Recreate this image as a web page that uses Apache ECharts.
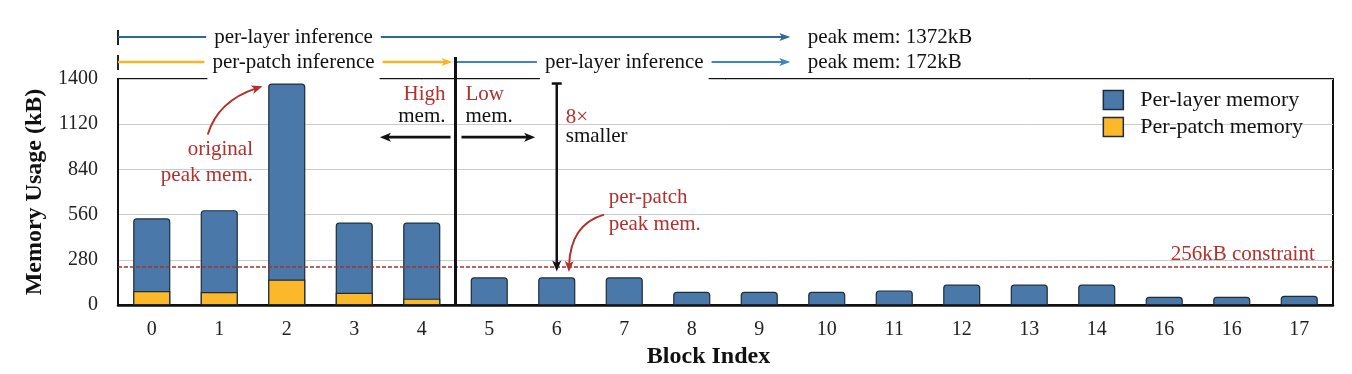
<!DOCTYPE html>
<html>
<head>
<meta charset="utf-8">
<script src="https://cdn.jsdelivr.net/npm/echarts@6/dist/echarts.min.js"></script>
<style>
html,body{margin:0;padding:0;background:#fff;}
#chart{width:1352px;height:374px;}
</style>
</head>
<body>
<div id="chart"></div>
<script>
// ---- data ----
const categories = ['0','1','2','3','4','5','6','7','8','9','10','11','12','13','14','16','16','17'];
const perLayerMemory = [537,588,1372,511,511,172,172,172,82,82,82,91,127,127,127,52,52,58];
const perPatchMemory = [87,81,158,76,40,null,null,null,null,null,null,null,null,null,null,null,null,null];
const constraintLine = [235];
const yTickValues = [0,280,560,840,1120,1400];
const seriesNames = ['Per-layer memory','Per-patch memory'];

const SERIF = '"Liberation Serif","Times New Roman",serif';
const RED = '#b3302c';
const chart = echarts.init(document.getElementById('chart'), null, {renderer:'canvas'});

const option = {
  animation:false,
  backgroundColor:'#fff',
  grid:{left:118,right:19,top:79,bottom:65,show:true,borderColor:'#111',borderWidth:2,backgroundColor:'transparent'},
  legend:{
    data:seriesNames, orient:'vertical', right:44, top:84,
    itemWidth:20, itemHeight:19, itemGap:5, icon:'rect',
    itemStyle:{borderColor:'#1e2c3a',borderWidth:1.5},
    textStyle:{fontFamily:SERIF,fontSize:22,color:'#111',padding:[0,0,0,12]}
  },
  xAxis:{
    type:'category', data:categories,
    name:'Block Index', nameLocation:'middle', nameGap:33,
    nameTextStyle:{fontFamily:SERIF,fontSize:24,fontWeight:'bold',color:'#111',padding:[0,34,0,0]},
    axisLine:{lineStyle:{color:'#111',width:2.5}},
    axisTick:{show:false},
    axisLabel:{fontFamily:SERIF,fontSize:20,color:'#222',margin:15}
  },
  yAxis:{
    type:'value', min:yTickValues[0], max:yTickValues[yTickValues.length-1], interval:yTickValues[1]-yTickValues[0],
    name:'Memory Usage (kB)', nameLocation:'middle', nameGap:68,
    nameTextStyle:{fontFamily:SERIF,fontSize:24,fontWeight:'bold',color:'#111'},
    axisLine:{show:true,lineStyle:{color:'#111',width:2}},
    axisTick:{show:false},
    axisLabel:{fontFamily:SERIF,fontSize:20,color:'#222',margin:20,formatter:v=>String(v)},
    splitLine:{lineStyle:{color:'#cccccc',width:1}}
  },
  series:[
    {
      name:seriesNames[0], type:'bar', data:perLayerMemory, barWidth:'55%',
      itemStyle:{color:'#4a79a9',borderColor:'#1e2c3a',borderWidth:1.2,borderRadius:[3,3,0,0]},
      markLine:{
        silent:true, symbol:['none','none'], z:10,
        label:{show:false},
        lineStyle:{color:'#a8302a',type:[4,2],width:1.6},
        data:[{yAxis:constraintLine[0]}]
      }
    },
    {
      name:seriesNames[1], type:'bar', data:perPatchMemory, barWidth:'55%', barGap:'-100%',
      itemStyle:{color:'#fab82a',borderColor:'#1e2c3a',borderWidth:1.2}
    }
  ]
};
chart.setOption(option);

// ---- annotations positioned through the axes ----
const x0 = chart.convertToPixel({xAxisIndex:0}, 0);
const step = chart.convertToPixel({xAxisIndex:0}, 1) - x0;
const fx = f => x0 + f*step;
const Y = v => chart.convertToPixel({yAxisIndex:0}, v);
const yTop = Y(1400), yBot = Y(0);

const mctx = document.createElement('canvas').getContext('2d');
const FS = 21;
const font = FS + 'px ' + SERIF;
function tw(t){ mctx.font = font; return mctx.measureText(t).width; }

const G = [];
function line(x1,y1,x2,y2,color,w){ G.push({type:'line',z:100,shape:{x1,y1,x2,y2},style:{stroke:color,lineWidth:w||2}}); }
function head(x,y,ang,color,len,hw){
  len=len||10; hw=hw||4;
  const c=Math.cos(ang), s=Math.sin(ang);
  const bx=x-len*c, by=y-len*s;
  G.push({type:'polygon',z:101,shape:{points:[[x,y],[bx-hw*s,by+hw*c],[bx+len*0.25*c,by+len*0.25*s],[bx+hw*s,by-hw*c]]},style:{fill:color}});
}
function arrow(x1,y1,x2,y2,color,w,len,hw){
  const ang=Math.atan2(y2-y1,x2-x1);
  line(x1,y1,x2-(len||10)*0.6*Math.cos(ang),y2-(len||10)*0.6*Math.sin(ang),color,w);
  head(x2,y2,ang,color,len,hw);
}
function curve(x1,y1,cx,cy,x2,y2,color){
  const ang=Math.atan2(y2-cy,x2-cx);
  G.push({type:'bezierCurve',z:100,shape:{x1,y1,cpx1:cx,cpy1:cy,x2:x2-6*Math.cos(ang),y2:y2-6*Math.sin(ang)},style:{stroke:color,lineWidth:2,fill:null}});
  head(x2,y2,ang,color,11,4.5);
}
function text(t,x,y,color,align,bg){
  const el={type:'text',z:102,x,y,style:{text:t,font,fill:color,align:align||'left',verticalAlign:'middle'}};
  if(bg){el.style.backgroundColor='#fff';el.style.padding=[0,8];}
  G.push(el);
}
function cover(cx,t){
  const w=tw(t);
  G.push({type:'rect',z:99,shape:{x:cx-w/2-5,y:yTop-4,width:w+10,height:7},style:{fill:'#fff'}});
}

const row1 = yTop-42, row2 = yTop-17;
const L = fx(-0.5), D = fx(4.5), tipX = fx(9.46), peakX = fx(9.72);
const BLUE1='#2b6b98', BLUE2='#3b86c6', YEL='#f6b526';

// row 1: per-layer inference over all blocks
line(L,row1-7,L,row1+8,'#222',2);
arrow(L,row1,tipX,row1,BLUE1,2,11,4);
text('per-layer inference',fx(2.1),row1,'#111','center',true);
text('peak mem: 1372kB',peakX,row1,'#111','left');

// row 2: per-patch then per-layer
line(L,row2-7,L,row2+8,'#222',2);
arrow(L,row2,D-3,row2,YEL,2.4,11,4);
text('per-patch inference',fx(2.1),row2,'#111','center',true);
cover(fx(2.1),'per-patch inference');
arrow(D,row2,tipX,row2,BLUE2,2,11,4);
text('per-layer inference',fx(7.0),row2,'#111','center',true);
cover(fx(7.0),'per-layer inference');
text('peak mem: 172kB',peakX,row2,'#111','left');

// divider between stages
line(D,row2-5,D,yBot,'#111',3);

// High / Low mem.
text('High',D-10,Y(1302),RED,'right');
text('mem.',D-10,Y(1170),'#111','right');
text('Low',D+10,Y(1302),RED,'left');
text('mem.',D+10,Y(1170),'#111','left');
arrow(D-5,Y(1040),fx(3.38),Y(1040),'#111',2.6,11,4.5);
arrow(D+6,Y(1040),fx(5.68),Y(1040),'#111',2.6,11,4.5);

// 8x smaller
const vx = fx(6);
line(vx-5,Y(1372),vx+5,Y(1372),'#111',2.5);
arrow(vx,Y(1372),vx,Y(208),'#111',2.5,11,4.5);
text('8\u00d7',vx+9,Y(1159),RED,'left');
text('smaller',vx+9,Y(1044),'#111','left');

// original peak mem.
text('original',fx(1.5),Y(965),RED,'right');
text('peak mem.',fx(1.5),Y(801),RED,'right');
curve(fx(0.83),Y(1056),fx(0.98),Y(1265),fx(1.64),Y(1355),RED);

// per-patch peak mem.
text('per-patch',fx(6.77),Y(668),RED,'left');
text('peak mem.',fx(6.77),Y(499),RED,'left');
curve(fx(6.7),Y(560),fx(6.2),Y(500),fx(6.18),Y(205),RED);

// constraint label
text('256kB constraint',fx(17.23),Y(constraintLine[0])-13,RED,'right');

chart.setOption({graphic:G});
</script>
</body>
</html>
